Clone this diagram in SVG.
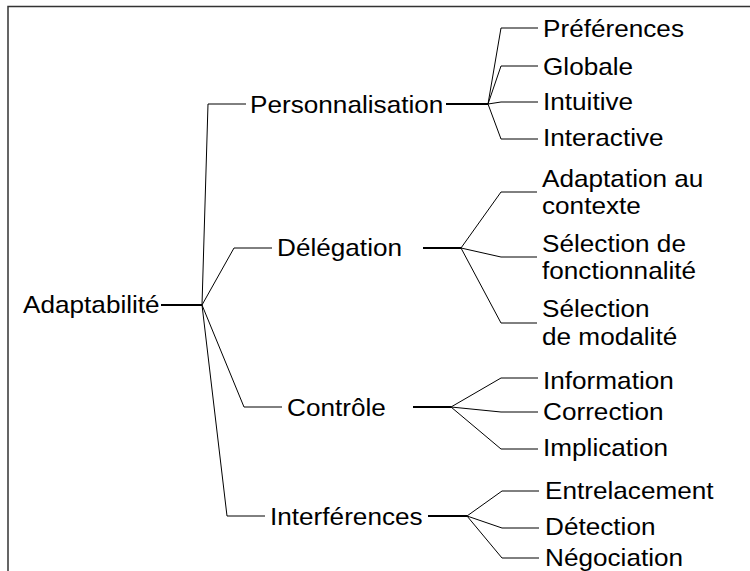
<svg xmlns="http://www.w3.org/2000/svg" width="750" height="571" viewBox="0 0 750 571">
<style>
text{font-family:"Liberation Sans",Arial,sans-serif;font-size:24px;fill:#000}
.c{fill:none;stroke:#000;stroke-width:1}
.s{fill:none;stroke:#000;stroke-width:2}
.f{fill:none;stroke:#333;stroke-width:1.5}
</style>
<rect x="0" y="0" width="750" height="571" fill="#fff"/>
<path class="f" d="M8,571 V6.5 H750"/>
<g id="connectors">
<path class="s" d="M161,305 H202"/>
<path class="c" d="M202,305 L208,104 H246"/>
<path class="c" d="M202,305 L234,248 H272"/>
<path class="c" d="M202,305 L244,407 H282"/>
<path class="c" d="M202,305 L227,516 H265"/>
<path class="s" d="M446,104 H488"/>
<path class="c" d="M488,104 L501,28 H538"/>
<path class="c" d="M488,104 L501,66 H538"/>
<path class="c" d="M488,104 L501,102 H538"/>
<path class="c" d="M488,104 L501,139 H538"/>
<path class="s" d="M423,248 H461"/>
<path class="c" d="M461,248 L501,192 H537"/>
<path class="c" d="M461,248 L501,257 H537"/>
<path class="c" d="M461,248 L501,323 H537"/>
<path class="s" d="M413,407 H451"/>
<path class="c" d="M451,407 L501,378 H538"/>
<path class="c" d="M451,407 L501,412 H538"/>
<path class="c" d="M451,407 L501,449 H538"/>
<path class="s" d="M428,516 H467"/>
<path class="c" d="M467,516 L502,491 H539"/>
<path class="c" d="M467,516 L502,528 H539"/>
<path class="c" d="M467,516 L502,558 H539"/>
</g>
<g id="n-adaptabilite"><text transform="translate(23,313) scale(1.09,1)">Adaptabilité</text></g>
<g id="n-personnalisation"><text transform="translate(250,113) scale(1.09,1)">Personnalisation</text></g>
<g id="n-delegation"><text transform="translate(277,256) scale(1.09,1)">Délégation</text></g>
<g id="n-controle"><text transform="translate(287,416) scale(1.09,1)">Contrôle</text></g>
<g id="n-interferences"><text transform="translate(270,525) scale(1.09,1)">Interférences</text></g>
<g id="n-preferences"><text transform="translate(543,37) scale(1.09,1)">Préférences</text></g>
<g id="n-globale"><text transform="translate(543,75) scale(1.09,1)">Globale</text></g>
<g id="n-intuitive"><text transform="translate(543,110) scale(1.09,1)">Intuitive</text></g>
<g id="n-interactive"><text transform="translate(543,146) scale(1.09,1)">Interactive</text></g>
<g id="n-adaptation"><text transform="translate(542,187) scale(1.09,1)">Adaptation au<tspan x="0" dy="27.5">contexte</tspan></text></g>
<g id="n-fonctionnalite"><text transform="translate(542,252) scale(1.09,1)">Sélection de<tspan x="0" dy="27.5">fonctionnalité</tspan></text></g>
<g id="n-modalite"><text transform="translate(542,317) scale(1.09,1)">Sélection<tspan x="0" dy="28">de modalité</tspan></text></g>
<g id="n-information"><text transform="translate(543,389) scale(1.09,1)">Information</text></g>
<g id="n-correction"><text transform="translate(543,420) scale(1.09,1)">Correction</text></g>
<g id="n-implication"><text transform="translate(543,456) scale(1.09,1)">Implication</text></g>
<g id="n-entrelacement"><text transform="translate(545,499) scale(1.09,1)">Entrelacement</text></g>
<g id="n-detection"><text transform="translate(545,535) scale(1.09,1)">Détection</text></g>
<g id="n-negociation"><text transform="translate(545,566) scale(1.09,1)">Négociation</text></g>
</svg>
